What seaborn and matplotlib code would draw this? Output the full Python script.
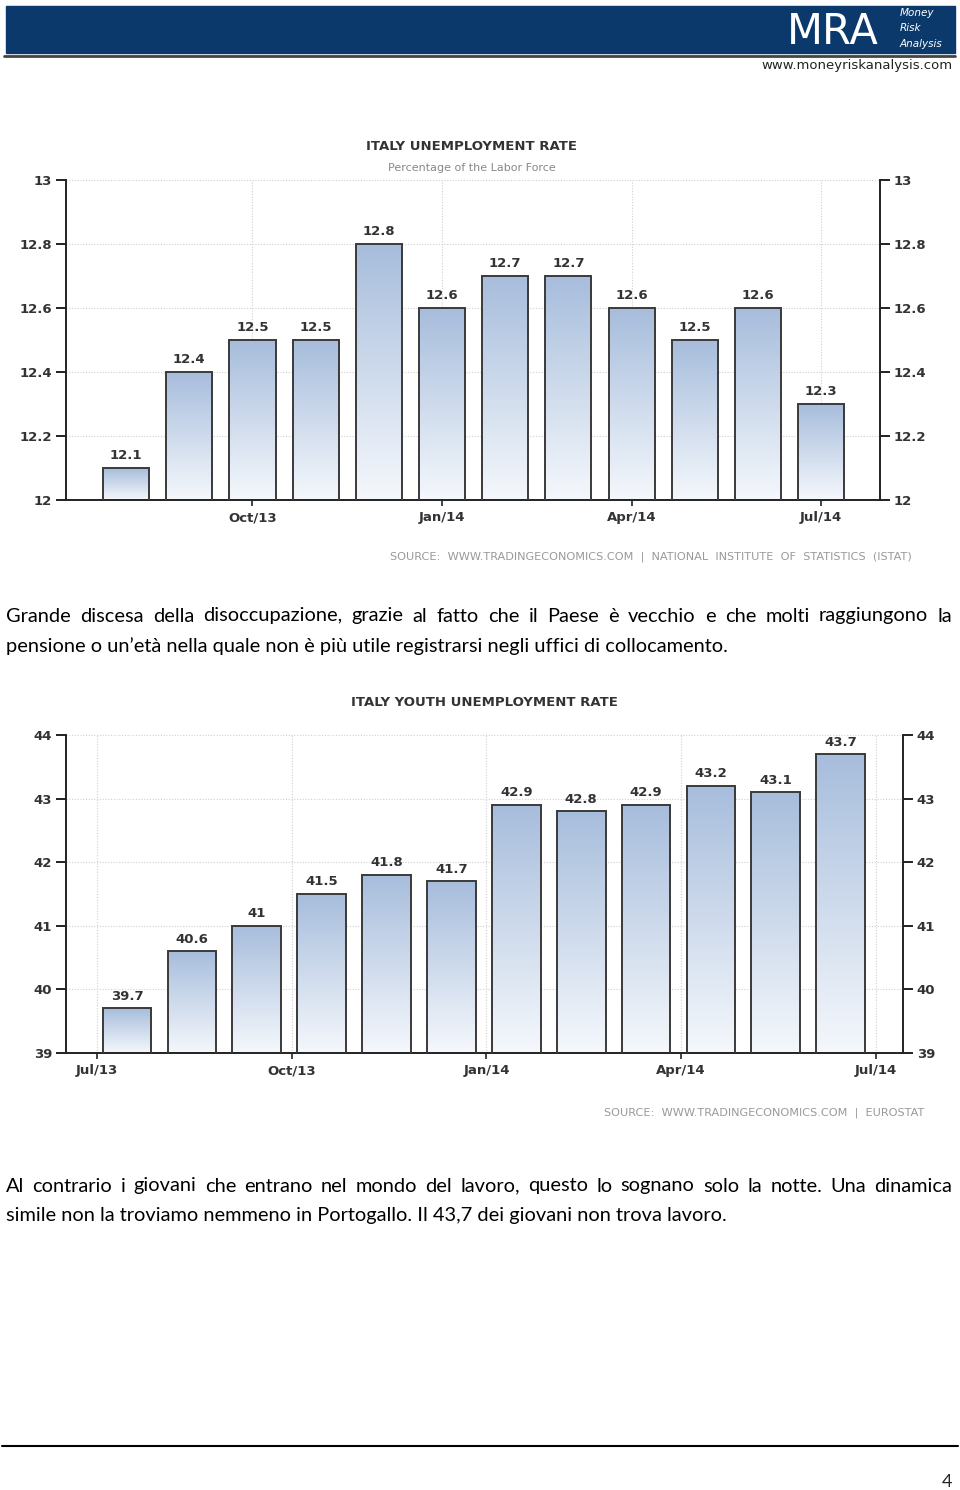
import matplotlib
matplotlib.use('Agg')
import matplotlib.pyplot as plt
from matplotlib.colors import LinearSegmentedColormap
from matplotlib.patches import Rectangle
from matplotlib.lines import Line2D
import numpy as np
import seaborn as sns

sns.set_style('white')
plt.rcParams['font.family'] = ['DejaVu Sans']

# data
months1 = ['Aug/13', 'Sep/13', 'Oct/13', 'Nov/13', 'Dec/13', 'Jan/14',
           'Feb/14', 'Mar/14', 'Apr/14', 'May/14', 'Jun/14', 'Jul/14']
rates1 = [12.1, 12.4, 12.5, 12.5, 12.8, 12.6, 12.7, 12.7, 12.6, 12.5, 12.6, 12.3]
ticks1 = ['Oct/13', 'Jan/14', 'Apr/14', 'Jul/14']
yticks1 = [12, 12.2, 12.4, 12.6, 12.8, 13]

months2 = ['Jul/13', 'Aug/13', 'Sep/13', 'Oct/13', 'Nov/13', 'Dec/13',
           'Jan/14', 'Feb/14', 'Mar/14', 'Apr/14', 'May/14', 'Jun/14']
rates2 = [39.7, 40.6, 41, 41.5, 41.8, 41.7, 42.9, 42.8, 42.9, 43.2, 43.1, 43.7]
ticks2 = ['Jul/13', 'Oct/13', 'Jan/14', 'Apr/14', 'Jul/14']
yticks2 = [39, 40, 41, 42, 43, 44]

para1 = ["Grande discesa della disoccupazione, grazie al fatto che il Paese è vecchio e che molti raggiungono la",
         "pensione o un’età nella quale non è più utile registrarsi negli uffici di collocamento."]
para2 = ["Al contrario i giovani che entrano nel mondo del lavoro, questo lo sognano solo la notte. Una dinamica",
         "simile non la troviamo nemmeno in Portogallo. Il 43,7 dei giovani non trova lavoro."]

W, H = 960, 1490
fig = plt.figure(figsize=(W / 100, H / 100), dpi=100)


def rect(l, t, r, b):
    return [l / W, 1 - b / H, (r - l) / W, (b - t) / H]


def fx(x):
    return x / W


def fy(y):
    return 1 - y / H


grad = LinearSegmentedColormap.from_list('g', ['#f5f8fc', '#a7bddc'])
TXT = '#333333'


def bar_chart(ax, cats, vals, ylim, yticks, tick_pos, tick_lab, xlim, width):
    sns.barplot(x=cats, y=vals, ax=ax, color='#a7bddc', edgecolor='#3a3a3a',
                linewidth=1.4, width=width, saturation=1, zorder=3)
    ax.set_ylim(*ylim)
    ax.set_xlim(*xlim)
    for p in list(ax.patches):
        x0, w, top = p.get_x(), p.get_width(), p.get_height()
        im = ax.imshow(np.linspace(1, 0, 256).reshape(-1, 1), cmap=grad,
                       aspect='auto', extent=(x0, x0 + w, ylim[0], top),
                       origin='upper', zorder=2, vmin=0, vmax=1)
        im.set_clip_path(p)
        p.set_facecolor('none')
    ax.set_ylim(*ylim)
    ax.set_xlim(*xlim)
    ax.bar_label(ax.containers[0], fmt='%g', padding=4, fontsize=9.5, color=TXT,
                 family='DejaVu Sans', weight='bold')
    ax.set_yticks(yticks)
    ax.set_yticklabels(['%g' % v for v in yticks])
    ax.set_xticks(tick_pos)
    ax.set_xticklabels(tick_lab)
    ax.set_xlabel('')
    ax.set_ylabel('')
    ax.grid(True, ls=(0, (1, 1.5)), color='#d0d0d0', lw=0.8)
    ax.set_axisbelow(True)
    for s in ['left', 'right', 'bottom']:
        ax.spines[s].set_visible(True)
        ax.spines[s].set_color('#222222')
        ax.spines[s].set_linewidth(1.4)
    ax.spines['top'].set_visible(False)
    ax.tick_params(axis='y', which='both', left=True, right=True, labelright=True,
                   length=7, width=1.4, color='#222222', labelsize=9.5,
                   labelcolor=TXT, pad=3, direction='out')
    ax.tick_params(axis='x', bottom=True, length=4, width=1.2, color='#222222',
                   labelsize=9.5, labelcolor=TXT, pad=4)
    for lab in ax.get_xticklabels() + ax.get_yticklabels() + ax.yaxis.get_ticklabels(which='both'):
        lab.set_family('DejaVu Sans')
        lab.set_weight('bold')
    for t in ax.yaxis.get_major_ticks():
        t.label2.set_family('DejaVu Sans')
        t.label2.set_weight('bold')


# ---- header
fig.patches.append(Rectangle((fx(6), fy(53)), fx(955) - fx(6), fy(6) - fy(53),
                             transform=fig.transFigure, color='#0b396b', zorder=0))
fig.lines.append(Line2D([fx(4), fx(955)], [fy(56), fy(56)], transform=fig.transFigure,
                        color='#444444', lw=2))
fig.text(fx(833), fy(32), 'MRA', color='white', fontsize=30, ha='center', va='center',
         family='DejaVu Sans')
for txt, yy in [('Money', 13), ('Risk', 28), ('Analysis', 44)]:
    fig.text(fx(900), fy(yy), txt, color='white', fontsize=7.5, ha='left', va='center',
             style='italic')
fig.text(fx(953), fy(66), 'www.moneyriskanalysis.com', fontsize=9.5, ha='right',
         va='center', color='#222222')

# ---- chart 1
ax1 = fig.add_axes(rect(66, 180, 880, 500))
bar_chart(ax1, months1, rates1, (12, 13), yticks1, [2, 5, 8, 11], ticks1,
          (-0.95, 11.93), 0.73)
fig.text(fx(472), fy(146), 'ITALY UNEMPLOYMENT RATE', fontsize=9.5, weight='bold',
         color=TXT, ha='center', va='center')
fig.text(fx(472), fy(168), 'Percentage of the Labor Force', fontsize=8,
         color='#888888', ha='center', va='center')
fig.text(fx(912), fy(557),
         'SOURCE:  WWW.TRADINGECONOMICS.COM  |  NATIONAL  INSTITUTE  OF  STATISTICS  (ISTAT)',
         fontsize=8.1, color='#999999', ha='right', va='center')

# ---- chart 2
ax2 = fig.add_axes(rect(66, 735, 903, 1053))
bar_chart(ax2, months2, rates2, (39, 44), yticks2, [-0.46, 2.54, 5.54, 8.54, 11.54],
          ticks2, (-0.94, 11.96), 0.75)
fig.text(fx(484), fy(702), 'ITALY YOUTH UNEMPLOYMENT RATE', fontsize=9.5,
         weight='bold', color=TXT, ha='center', va='center')
fig.text(fx(924), fy(1113), 'SOURCE:  WWW.TRADINGECONOMICS.COM  |  EUROSTAT',
         fontsize=8.1, color='#999999', ha='right', va='center')

# ---- paragraphs
renderer = fig.canvas.get_renderer()
pkw = dict(fontsize=14.4, family='Lato', color='black', va='center')


def justify(line, x0, x1, y):
    words = line.split(' ')
    texts = [fig.text(0, 0, w, **pkw) for w in words]
    widths = [t.get_window_extent(renderer).width for t in texts]
    gap = (x1 - x0 - sum(widths)) / (len(words) - 1)
    x = x0
    for t, w in zip(texts, widths):
        t.set_position((fx(x), fy(y)))
        x += w + gap


justify(para1[0], 6, 952, 616)
fig.text(fx(6), fy(646), para1[1], **pkw)
justify(para2[0], 6, 952, 1186)
fig.text(fx(6), fy(1216), para2[1], **pkw)

# ---- footer
fig.lines.append(Line2D([fx(2), fx(958)], [fy(1446), fy(1446)], transform=fig.transFigure,
                        color='black', lw=1.5))
fig.text(fx(952), fy(1482), '4', fontsize=13, family='Lato', ha='right', va='center')

fig.savefig('out.png', dpi=100)
